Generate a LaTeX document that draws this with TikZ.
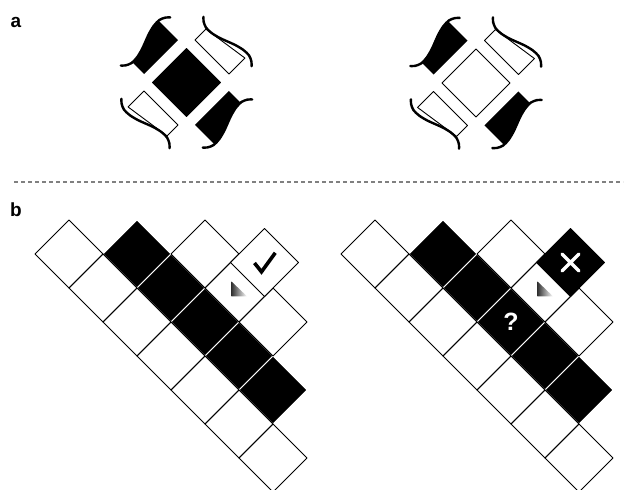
\documentclass[tikz,border=0pt]{standalone}
\usepackage{fontspec}
\setmainfont{Liberation Sans}
\begin{document}
\begin{tikzpicture}[x=1pt,y=1pt,line join=round,line cap=round,
  cellw/.style={draw=black,line width=0.9pt},
  cellb/.style={fill=black,draw=white,line width=0.9pt},
  wave/.style={line width=2.4pt},
  lab/.style={font=\fontsize{19}{19}\selectfont\bfseries},
  qmark/.style={text=white,font=\fontsize{25}{25}\selectfont\bfseries}]
\useasboundingbox (0,0) rectangle (633,-490);
% panel labels and separator
\node[lab] (lab-a) at (16,-22) {a};
\node[lab] (lab-b) at (16,-210) {b};
\draw[gray,line width=1.2pt,line cap=butt,dash pattern=on 4pt off 3pt] (14,-182) -- (623,-182);
% a: the two pieces
\foreach \dx/\dy/\dfill in {186.5/-82.5/black,476/-83/white}{
  \begin{scope}[shift={(\dx,\dy)}]
    \filldraw[fill=\dfill,line width=0.9pt,rotate=45] (-24,-24) rectangle (24,24);
    \foreach \r in {45,-135}{
      \begin{scope}[rotate=\r]
        \fill (-24,36) -- (-24,52.6) -- plot[smooth] coordinates {(-24,52.6) (-17,52.8) (-8,55) (0,58) (8,61) (17,63.2) (24,63.4)} -- (24,36) -- cycle;
        \draw[wave] plot[smooth] coordinates {(-34.5,58.5) (-31,55.2) (-25,52.6) (-17,52.8) (-8,55) (0,58) (8,61) (17,63.2) (25,63.4) (31,60.8) (34.5,57.5)};
      \end{scope}}
    \foreach \r in {-45,135}{
      \begin{scope}[rotate=\r]
        \draw[fill=white,line width=0.9pt] (-24,36) -- (-24,51.5) -- (24,58.6) -- (24,36) -- cycle;
        \draw[wave] plot[smooth] coordinates {(-34.5,58.5) (-31,55.2) (-25,52.6) (-17,52.8) (-8,55) (0,58) (8,61) (17,63.2) (25,63.4) (31,60.8) (34.5,57.5)};
      \end{scope}}
  \end{scope}}
% b: the two grids
\foreach \gx/\gn in {69/L,375/R}{
  \begin{scope}[shift={(\gx,-254)},rotate=-45,scale=48.08]
    \foreach \a in {1,...,5} \filldraw[cellb] (\a-0.5,0.5) rectangle +(1,1);
    \foreach \a in {0,...,6} \draw[cellw] (\a-0.5,-0.5) rectangle +(1,1);
    \foreach \a in {2,3,4} \draw[cellw] (\a-0.5,1.5) rectangle +(1,1);
    \coordinate (tri\gn) at (3,2);
    \coordinate (top\gn) at (3,2.75);
    \coordinate (q\gn) at (3,1);
  \end{scope}
  \shade[left color=black!80,right color=white] (tri\gn) ++(-7.5,6.5) -- ++(0,-14.8) -- ++(15.5,0) -- cycle;
}
% placed tiles
\begin{scope}[shift={(69,-254)},rotate=-45,scale=48.08]
  \filldraw[fill=white,cellw] (2.5,2.25) rectangle +(1,1);
\end{scope}
\begin{scope}[shift={(375,-254)},rotate=-45,scale=48.08]
  \filldraw[fill=black,draw=black,line width=0.9pt] (2.5,2.25) rectangle +(1,1);
\end{scope}
\draw[line width=3.6pt,line cap=butt,line join=miter] (topL) ++(-10,-0.5) -- ++(7,-8.8) -- ++(13.8,19);
\draw[white,line width=3.3pt] (topR) ++(-8.5,-8.5) -- ++(17,17) (topR) ++(-8.5,8.5) -- ++(17,-17);
\node[qmark] (ask) at (qR) {?};
\end{tikzpicture}
\end{document}
